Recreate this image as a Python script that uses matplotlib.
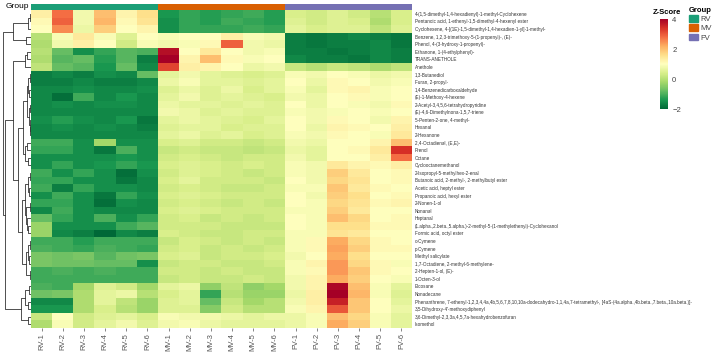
import numpy as np
import matplotlib.pyplot as plt
from matplotlib.patches import Patch

plt.rcParams["font.family"] = ["Liberation Sans", "DejaVu Sans"]

samples = ["RV-1", "RV-2", "RV-3", "RV-4", "RV-5", "RV-6",
           "MV-1", "MV-2", "MV-3", "MV-4", "MV-5", "MV-6",
           "FV-1", "FV-2", "FV-3", "FV-4", "FV-5", "FV-6"]
groups = ["RV"] * 6 + ["MV"] * 6 + ["FV"] * 6
group_colors = {"RV": "#1b9e77", "MV": "#d95f02", "FV": "#7570b3"}

compounds = [
    "4-(1,5-dimethyl-1,4-hexadienyl)-1-methyl-Cyclohexene",
    "Pentanoic acid, 1-ethenyl-1,5-dimethyl-4-hexenyl ester",
    "Cyclohexene, 4-[(1E)-1,5-dimethyl-1,4-hexadien-1-yl]-1-methyl-",
    "Benzene, 1,2,3-trimethoxy-5-(1-propenyl)-, (E)-",
    "Phenol, 4-(3-hydroxy-1-propenyl)-",
    "Ethanone, 1-(4-ethylphenyl)-",
    "TRANS-ANETHOLE",
    "Anethole",
    "1,3-Butanediol",
    "Furan, 2-propyl-",
    "1,4-Benzenedicarboxaldehyde",
    "(E)-1-Methoxy-4-hexene",
    "2-Acetyl-3,4,5,6-tetrahydropyridine",
    "(E)-4,6-Dimethylnona-1,5,7-triene",
    "5-Penten-2-one, 4-methyl-",
    "Hexanal",
    "2-Hexanone",
    "2,4-Octadienal, (E,E)-",
    "Prenol",
    "Octane",
    "Cyclooctanemethanol",
    "2-Isopropyl-5-methylhex-2-enal",
    "Butanoic acid, 2-methyl-, 2-methylbutyl ester",
    "Acetic acid, heptyl ester",
    "Propanoic acid, hexyl ester",
    "2-Nonen-1-ol",
    "Nonanal",
    "Heptanal",
    "(1.alpha.,2.beta.,5.alpha.)-2-methyl-5-(1-methylethenyl)-Cyclohexanol",
    "Formic acid, octyl ester",
    "o-Cymene",
    "p-Cymene",
    "Methyl salicylate",
    "1,7-Octadiene, 2-methyl-6-methylene-",
    "2-Hepten-1-ol, (E)-",
    "1-Octen-3-ol",
    "Eicosane",
    "Nonadecane",
    "Phenanthrene, 7-ethenyl-1,2,3,4,4a,4b,5,6,7,8,10,10a-dodecahydro-1,1,4a,7-tetramethyl-, [4aS-(4a.alpha.,4b.beta.,7.beta.,10a.beta.)]-",
    "3,5-Dihydroxy-4'-methoxydiphenyl",
    "3,6-Dimethyl-2,3,3a,4,5,7a-hexahydrobenzofuran",
    "Isomethol",
]

# z-scores, RV-1..RV-6 | MV-1..MV-6 | FV-1..FV-6
zscore = [
    [1.3, 2.8, 0.8, 2.0, 1.2, 1.6,   -1.4, -1.2, -1.3, -1.2, -1.1, -1.3,   0.4, 0.3, 0.5, 0.3, 0.0, 0.4],
    [1.1, 2.9, 0.8, 2.1, 1.1, 1.5,   -1.5, -1.2, -1.3, -1.1, -1.2, -1.3,   0.5, 0.3, 0.5, 0.4, -0.1, 0.4],
    [1.0, 2.5, 0.7, 1.8, 1.0, 1.2,   -1.5, -1.2, -1.2, -1.2, -1.1, -1.2,   0.6, 0.4, 0.5, 0.5, 0.1, 0.5],
    [0.0, 0.9, 1.4, 0.9, 0.5, 1.0,   0.9, 1.0, 1.0, 1.3, 0.9, 0.8,   -1.7, -1.8, -1.7, -1.6, -1.7, -1.8],
    [-0.1, 0.8, 1.3, 1.0, 0.3, 0.9,   0.8, 0.9, 1.1, 2.9, 0.8, 0.7,   -1.7, -1.8, -1.7, -1.7, -1.6, -1.8],
    [0.0, -0.8, -1.5, -1.2, -0.9, -1.0,   3.8, 1.0, 1.4, 1.0, 0.8, 0.9,   -1.7, -1.7, -1.8, -1.7, -1.6, -1.7],
    [-0.1, -0.9, -0.8, -1.3, -0.9, -1.7,   4.0, 1.2, 2.0, 1.1, 0.9, 1.0,   -1.6, -1.7, -1.7, -1.8, -1.6, -1.7],
    [0.1, -0.8, -0.9, -1.4, -0.8, -1.6,   3.2, 1.3, 1.2, 1.0, 0.7, 0.8,   0.2, 0.0, 0.2, 0.1, -0.1, 0.1],
    [-1.7, -1.6, -1.7, -1.5, -1.6, -0.8,   0.6, 0.8, 0.6, 0.5, 0.4, 0.5,   0.9, 0.8, 1.0, 0.9, 0.7, 0.8],
    [-1.7, -1.7, -1.6, -1.7, -1.7, -1.6,   0.7, 0.9, 0.6, 0.6, 0.5, 0.6,   1.0, 0.7, 1.1, 1.0, 0.8, 0.9],
    [-1.6, -1.6, -1.5, -1.6, -1.6, -1.5,   0.5, 0.7, 0.5, 0.7, 0.4, 0.6,   0.9, 0.6, 1.1, 1.2, 0.9, 1.0],
    [-1.6, -1.9, -1.1, -1.6, -1.4, -1.6,   0.6, 0.8, 0.5, 0.6, 0.5, 0.4,   0.8, 0.7, 1.0, 1.1, 0.9, 1.0],
    [-1.6, -1.5, -1.6, -1.5, -1.5, -1.6,   0.7, 0.6, 0.6, 0.5, 0.6, 0.5,   1.0, 0.7, 1.0, 0.9, 0.8, 1.1],
    [-1.6, -1.6, -1.6, -1.6, -1.6, -1.6,   0.8, 0.7, 0.5, 0.6, 0.5, 0.5,   0.9, 0.8, 0.9, 1.0, 0.9, 1.0],
    [-1.5, -1.3, -1.5, -1.6, -1.4, -1.8,   0.6, 0.7, 0.6, 0.5, 0.4, 0.6,   1.0, 0.8, 1.1, 1.0, 0.8, 1.2],
    [-1.6, -1.5, -1.6, -1.5, -1.6, -1.7,   0.5, 0.6, 0.6, 0.4, 0.5, 0.5,   1.0, 0.7, 1.2, 1.1, 1.0, 1.3],
    [-1.6, -1.6, -1.6, -1.6, -1.6, -1.6,   0.6, 0.7, 0.5, 0.6, 0.4, 0.5,   0.9, 0.8, 1.1, 1.0, 0.9, 1.4],
    [-1.1, -1.1, -1.5, -0.2, -1.5, -1.5,   0.4, 0.5, 0.3, 0.3, 0.2, 0.3,   0.8, 0.7, 1.0, 1.0, 1.2, 2.0],
    [-1.2, -1.2, -1.5, -1.8, -1.0, -1.5,   0.2, 0.3, 0.2, 0.2, 0.1, 0.2,   0.7, 0.6, 1.0, 1.1, 1.4, 3.4],
    [-1.5, -1.5, -1.5, -1.5, -1.4, -1.5,   0.3, 0.4, 0.3, 0.2, 0.3, 0.3,   0.8, 0.6, 1.0, 1.0, 1.3, 2.8],
    [-1.5, -1.2, -1.5, -1.4, -1.2, -1.4,   0.4, 0.5, 0.4, 0.3, 0.4, 0.3,   0.9, 0.8, 1.4, 1.2, 1.1, 1.3],
    [-1.1, -1.5, -1.2, -1.5, -1.9, -1.5,   0.3, 0.5, 0.4, 0.3, 0.2, 0.3,   0.9, 0.8, 1.8, 1.4, 1.0, 1.1],
    [-1.2, -1.2, -1.5, -1.5, -1.8, -1.6,   0.4, 0.6, 0.3, 0.3, 0.3, 0.2,   1.0, 0.8, 1.7, 1.5, 1.0, 1.1],
    [-1.1, -1.7, -1.2, -1.5, -1.5, -1.6,   0.3, 0.4, 0.3, 0.2, 0.2, 0.3,   0.9, 0.9, 1.9, 1.4, 1.1, 1.0],
    [-1.5, -1.1, -1.5, -1.8, -1.2, -1.5,   0.4, 0.5, 0.4, 0.3, 0.3, 0.3,   1.0, 0.8, 1.8, 1.6, 1.0, 1.1],
    [-1.2, -1.2, -1.5, -1.9, -1.5, -1.6,   0.3, 0.4, 0.3, 0.2, 0.3, 0.2,   1.0, 0.9, 1.7, 1.5, 1.1, 1.2],
    [-1.6, -1.1, -1.5, -1.6, -1.6, -1.6,   0.4, 0.5, 0.4, 0.3, 0.3, 0.3,   0.9, 0.9, 1.8, 1.4, 1.0, 1.0],
    [-0.8, -1.2, -1.5, -1.0, -1.5, -1.2,   0.3, 0.4, 0.2, 0.3, 0.2, 0.3,   1.0, 0.9, 2.0, 1.7, 1.0, 1.1],
    [-0.3, -1.5, -1.5, -1.5, -1.1, -0.9,   0.3, 0.3, 0.3, 0.2, 0.2, 0.2,   1.0, 0.9, 1.6, 1.6, 1.1, 1.1],
    [-0.3, -1.6, -1.7, -2.0, -1.6, -1.7,   0.4, 0.3, 0.2, 0.2, 0.3, 0.3,   0.9, 0.9, 1.5, 1.4, 1.0, 1.0],
    [-1.1, -1.1, -1.3, -1.1, -1.1, -1.1,   0.2, 0.4, 0.3, 0.2, 0.3, 0.2,   0.9, 1.1, 2.2, 1.7, 1.1, 1.0],
    [-1.0, -1.1, -1.2, -1.0, -1.1, -1.2,   0.3, 0.4, 0.2, 0.3, 0.2, 0.3,   0.9, 1.1, 2.3, 1.8, 1.1, 1.1],
    [-0.6, -0.7, -0.6, -0.9, -0.7, -0.6,   0.4, 0.5, 0.2, 0.3, 0.3, 0.4,   0.8, 1.0, 2.2, 1.6, 1.0, 1.0],
    [-0.6, -0.7, -0.7, -0.8, -0.8, -1.5,   0.2, 0.3, 0.3, 0.2, 0.2, 0.3,   0.9, 1.2, 2.4, 1.7, 1.1, 0.9],
    [-1.1, -1.0, -1.1, -1.0, -1.1, -1.1,   0.3, 0.3, 0.2, 0.3, 0.2, 0.2,   0.9, 1.1, 2.4, 1.9, 1.1, 1.0],
    [-1.1, -1.1, -1.1, -1.1, -1.1, -1.1,   0.2, 0.3, 0.2, 0.2, 0.3, 0.2,   0.8, 1.2, 2.2, 1.8, 1.0, 0.9],
    [-1.0, -1.1, -0.2, 0.5, 0.3, -0.2,   0.6, 0.7, -0.4, 0.1, -0.4, -0.2,   0.8, 1.2, 3.9, 2.0, 0.9, 0.6],
    [-0.7, -0.6, -0.1, 0.6, 0.7, 0.0,   0.4, 0.6, -1.2, 0.0, -0.3, -0.3,   0.7, 1.3, 4.0, 2.1, 0.9, 0.5],
    [-1.6, -1.6, -0.1, 0.6, 0.1, -0.3,   0.5, 0.6, -0.8, 0.2, -0.2, 0.0,   0.8, 1.3, 3.6, 1.9, 1.0, 0.6],
    [-1.4, -1.4, -0.1, 0.4, 0.0, -0.3,   0.5, 0.5, -0.5, 0.3, 0.0, 0.0,   0.9, 1.2, 3.0, 1.9, 1.0, 0.7],
    [0.2, 1.0, 0.3, 0.5, 0.6, 0.4,   0.9, 0.8, 0.8, 0.7, 0.6, 0.7,   0.7, 0.9, 2.0, 1.7, 0.9, 0.6],
    [-0.1, 0.9, 0.3, 0.6, 0.8, 0.5,   0.8, 0.9, 0.7, 0.6, 0.6, 0.6,   0.7, 0.9, 2.2, 1.8, 0.9, 0.6],
]

# row dendrogram: [left, right, merge height], leaves are row indices
t_top = [[[0, 1, 0.4], 2, 0.9], [3, 4, 1.6], 6.2]
t_b = [[5, 6, 1.2], 7, 2.0]
t_c1 = [[[[8, 9, 0.5], [10, 11, 0.6], 0.9], [[12, 13, 0.4], [14, [15, 16, 0.3], 0.5], 0.8], 1.2],
        [[17, 18, 1.5], [19, 20, 0.9], 2.0], 2.8]
t_c2 = [[[[21, 22, 0.5], [23, 24, 0.6], 0.9], [[25, 26, 0.5], [27, [28, 29, 1.0], 1.3], 1.6], 2.2],
        [[[30, 31, 0.4], [32, 33, 0.8], 1.1], [34, 35, 0.5], 1.8], 3.2]
t_r2 = [[[36, 37, 0.8], [38, 39, 1.0], 2.2], [40, 41, 1.0], 3.5]
tree = [t_top, [[t_b, [t_c1, t_c2, 4.5], 6.0], t_r2, 8.8], 9.5]


def draw_tree(ax, node):
    # returns (position, height) of node
    if isinstance(node, int):
        return node, 0.0
    yl, hl = draw_tree(ax, node[0])
    yr, hr = draw_tree(ax, node[1])
    h = node[2]
    ax.plot([hl, h, h, hr], [yl, yl, yr, yr], color="#333333", lw=0.6)
    return (yl + yr) / 2, h


data = np.array(zscore)
nrow, ncol = data.shape

fig = plt.figure(figsize=(7.14, 3.53), dpi=100)
W, H = 714, 353


def px_axes(x0, y0, x1, y1):
    return fig.add_axes([x0 / W, 1 - y1 / H, (x1 - x0) / W, (y1 - y0) / H])


ax = px_axes(31, 10, 412, 328)
im = ax.imshow(data, cmap="RdYlGn_r", vmin=-2, vmax=4, aspect="auto", interpolation="nearest")
ax.set_xticks(range(ncol))
ax.set_xticklabels(samples, rotation=90, fontsize=5.5, color="#555555")
ax.yaxis.tick_right()
ax.set_yticks(range(nrow))
ax.set_yticklabels(compounds, fontsize=3.3, color="#333333")
ax.tick_params(axis="y", length=0, pad=2)
ax.tick_params(axis="x", length=2, width=0.5, color="#555555", pad=1.5)
for s in ax.spines.values():
    s.set_visible(False)

# group bar
gax = px_axes(31, 4, 412, 9.5)
gcol = [group_colors[g] for g in groups]
gax.bar(range(ncol), 1, width=1.0, color=gcol)
gax.set_xlim(-0.5, ncol - 0.5)
gax.set_ylim(0, 1)
gax.axis("off")
fig.text(29 / W, 1 - 7 / H, "Group", ha="right", va="center", fontsize=6)

# dendrogram
dax = px_axes(1, 10, 31, 328)
draw_tree(dax, tree)
dax.set_ylim(nrow - 0.5, -0.5)
dax.set_xlim(10.2, 0)
dax.axis("off")

# colorbar
cax = px_axes(660, 19, 668, 109)
cb = fig.colorbar(im, cax=cax, ticks=[-2, 0, 2, 4])
cb.outline.set_visible(False)
cb.ax.tick_params(labelsize=5.5, length=2, width=0.5, color="white", labelcolor="#444444", pad=1)
fig.text(667 / W, 1 - 12 / H, "Z-Score", ha="center", va="center", fontsize=5.5, fontweight="bold")

# group legend
handles = [Patch(color=group_colors[g], label=g) for g in ["RV", "MV", "FV"]]
leg = fig.legend(handles=handles, title="Group", loc="upper left",
                 bbox_to_anchor=(689 / W, 1 - 7 / H), frameon=False,
                 fontsize=5.5, title_fontsize=5.5, handlelength=1.2, handleheight=1.0,
                 handletextpad=0.3, labelspacing=0.15, borderpad=0, borderaxespad=0)
leg.get_title().set_fontweight("bold")
leg._legend_box.align = "left"
for t in leg.get_texts():
    t.set_color("#444444")

fig.savefig("out.png", dpi=100)
